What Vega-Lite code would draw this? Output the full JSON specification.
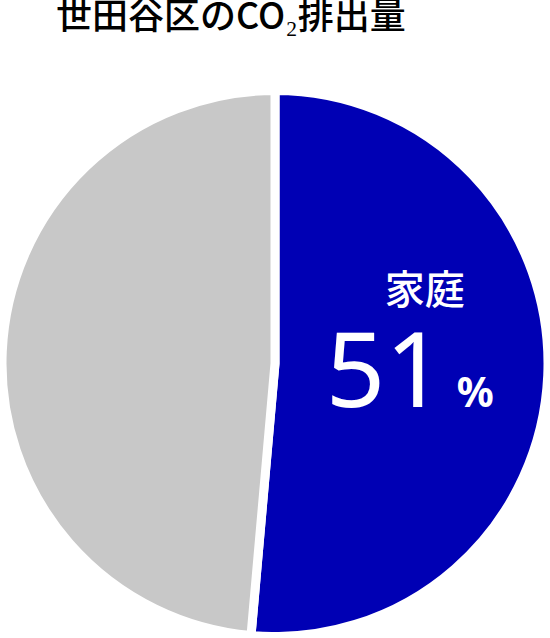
{
  "$schema": "https://vega.github.io/schema/vega-lite/v6.json",
  "autosize": "none",
  "width": 550,
  "height": 537,
  "padding": {"top": 95, "left": 0, "right": 0, "bottom": 0},
  "background": "white",
  "title": {
    "text": "世田谷区のCO₂排出量",
    "anchor": "start",
    "frame": "group",
    "dx": 56,
    "offset": 49,
    "font": "Noto Sans CJK JP",
    "fontSize": 36,
    "fontWeight": 500,
    "color": "black"
  },
  "data": {
    "values": [
      {"category": "家庭", "value": 51.4, "label": "51"},
      {"category": "その他", "value": 48.6, "label": "49"}
    ]
  },
  "encoding": {
    "theta": {"field": "value", "type": "quantitative", "stack": true},
    "order": {"field": "value", "type": "quantitative", "sort": "descending"}
  },
  "layer": [
    {
      "mark": {"type": "arc", "outerRadius": 273, "stroke": "white", "strokeWidth": 9, "strokeJoin": "bevel"},
      "encoding": {
        "color": {
          "field": "category",
          "type": "nominal",
          "scale": {"domain": ["家庭", "その他"], "range": ["#0000b4", "#c8c8c8"]},
          "legend": null
        }
      }
    },
    {
      "mark": {"type": "text", "radius": 150, "font": "Noto Sans CJK JP", "fontSize": 40, "fontWeight": 500, "color": "white", "align": "center", "baseline": "middle", "dy": -78},
      "encoding": {
        "text": {"condition": {"test": "datum.category === '家庭'", "field": "category"}, "value": ""}
      }
    },
    {
      "mark": {"type": "text", "radius": 150, "font": "Noto Sans", "fontSize": 104, "color": "white", "align": "right", "baseline": "alphabetic", "dx": 20, "dy": 37},
      "encoding": {
        "text": {"condition": {"test": "datum.category === '家庭'", "field": "label"}, "value": ""}
      }
    },
    {
      "mark": {"type": "text", "radius": 150, "font": "Noto Sans", "fontSize": 41, "fontWeight": "bold", "color": "white", "align": "left", "baseline": "alphabetic", "dx": 32, "dy": 37},
      "encoding": {
        "text": {"condition": {"test": "datum.category === '家庭'", "value": "%"}, "value": ""}
      }
    }
  ]
}
